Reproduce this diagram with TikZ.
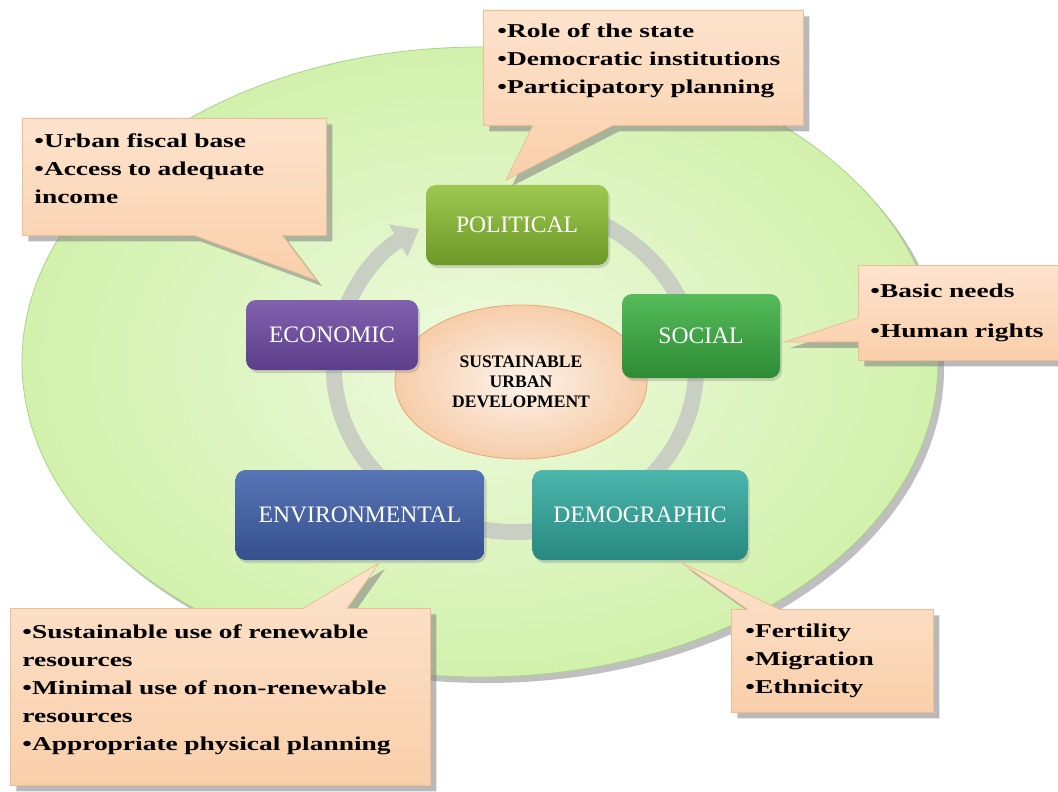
\documentclass[tikz,border=0pt]{standalone}
\usepackage{fontspec}
\setmainfont{Liberation Serif}
\newfontfamily\notefont[FakeStretch=1.4]{Liberation Serif}
\usetikzlibrary{shapes.geometric,shapes.callouts,shadows,arrows.meta}

\definecolor{fieldin}{HTML}{EEFADF}
\definecolor{fieldout}{HTML}{D2F1AC}
\definecolor{fieldrim}{HTML}{A9D487}
\definecolor{ringgray}{HTML}{C9CFC3}
\definecolor{hubin}{HTML}{FDF3EA}
\definecolor{hubout}{HTML}{F6CDAA}
\definecolor{hubrim}{HTML}{E9A673}
\definecolor{notetop}{HTML}{FDE3CD}
\definecolor{notebot}{HTML}{F9CFAA}
\definecolor{noterim}{HTML}{EDBE94}
\definecolor{poltop}{HTML}{9EC850}
\definecolor{polbot}{HTML}{6C9827}
\definecolor{soctop}{HTML}{55BB59}
\definecolor{socbot}{HTML}{2D8B34}
\definecolor{ecotop}{HTML}{8262AE}
\definecolor{ecobot}{HTML}{5C3D8A}
\definecolor{envtop}{HTML}{5775B5}
\definecolor{envbot}{HTML}{36508D}
\definecolor{demtop}{HTML}{4BB6AC}
\definecolor{dembot}{HTML}{288880}

\begin{document}
\begin{tikzpicture}[x=0.5pt, y=-0.5pt,
	factor/.style={rectangle, rounded corners=5pt, text=white, font=\fontsize{11.8}{13}\selectfont, drop shadow={shadow xshift=1pt, shadow yshift=-1.5pt, opacity=.3}},
	note/.style={rectangle callout, anchor=north west, top color=notetop, bottom color=notebot, draw=noterim, line width=.4pt, inner xsep=6pt, inner ysep=3pt, align=left, font=\notefont\bfseries\fontsize{9.8}{14}\selectfont, drop shadow={shadow xshift=3pt, shadow yshift=-3pt, opacity=.55}}]
			\fill [white] (0, 0) rectangle (1058, 791);
			\useasboundingbox (0, 0) rectangle (1058, 791);
			\draw (480, 362) node [ellipse, minimum width=458pt, minimum height=315pt, inner color=fieldin, outer color=fieldout, draw=fieldrim, drop shadow={shadow xshift=3pt, shadow yshift=-3pt, opacity=.5}] (field) {};
			\coordinate (ring) at (515, 368);
			\draw [ringgray, line width=8pt, -{Triangle[width=18pt, length=12pt]}] (ring) ++(85:90.5pt and 82pt) arc [start angle=85, end angle=-238, x radius=90.5pt, y radius=82pt];
			\draw (521, 382) node [ellipse, minimum width=126pt, minimum height=77pt, inner color=hubin, outer color=hubout, draw=hubrim, align=center, font=\bfseries\fontsize{8.8}{10}\selectfont] (hub) {SUSTAINABLE\\URBAN\\DEVELOPMENT};
			\draw (517, 225) node [factor, minimum width=91pt, minimum height=40pt, top color=poltop, bottom color=polbot] (political) {POLITICAL};
			\draw (701, 336) node [factor, minimum width=79pt, minimum height=42pt, top color=soctop, bottom color=socbot] (social) {SOCIAL};
			\draw (332, 335) node [factor, minimum width=86pt, minimum height=35pt, top color=ecotop, bottom color=ecobot] (economic) {ECONOMIC};
			\draw (360, 515) node [factor, minimum width=124.5pt, minimum height=45pt, top color=envtop, bottom color=envbot] (environmental) {ENVIRONMENTAL};
			\draw (640, 515) node [factor, minimum width=107.5pt, minimum height=45pt, top color=demtop, bottom color=dembot] (demographic) {DEMOGRAPHIC};
			\coordinate (polTip) at (506, 180);
			\coordinate (ecoTip) at (316, 280);
			\coordinate (socTip) at (784, 342);
			\coordinate (envTip) at (379, 563);
			\coordinate (demTip) at (682, 563);
			\draw (483, 10) node [note, minimum width=160pt, minimum height=57.5pt, text width=146pt, text depth=37.5pt, callout absolute pointer={(polTip)}, callout pointer width=40pt] (polNote) {•Role of the state\\•Democratic institutions\\•Participatory planning};
			\draw (22, 118) node [note, minimum width=150pt, minimum height=58.5pt, text width=140pt, text depth=36pt, callout absolute pointer={(ecoTip)}, callout pointer width=44pt] (ecoNote) {•Urban fiscal base\\•Access to adequate\\income};
			\draw (858, 265) node [note, minimum width=99pt, minimum height=47.5pt, text width=91pt, callout absolute pointer={(socTip)}, callout pointer width=12pt] (socNote) {•Basic needs\\[6pt]•Human rights};
			\draw (10, 608) node [note, minimum width=210pt, minimum height=88.5pt, text width=198pt, text depth=65pt, callout absolute pointer={(envTip)}, callout pointer width=22pt] (envNote) {•Sustainable use of renewable\\resources\\•Minimal use of non-renewable\\resources\\•Appropriate physical planning};
			\draw (731, 609) node [note, minimum width=101pt, minimum height=51.5pt, text width=87pt, callout absolute pointer={(demTip)}, callout pointer width=16pt] (demNote) {•Fertility\\•Migration\\•Ethnicity};
		\end{tikzpicture}
\end{document}
